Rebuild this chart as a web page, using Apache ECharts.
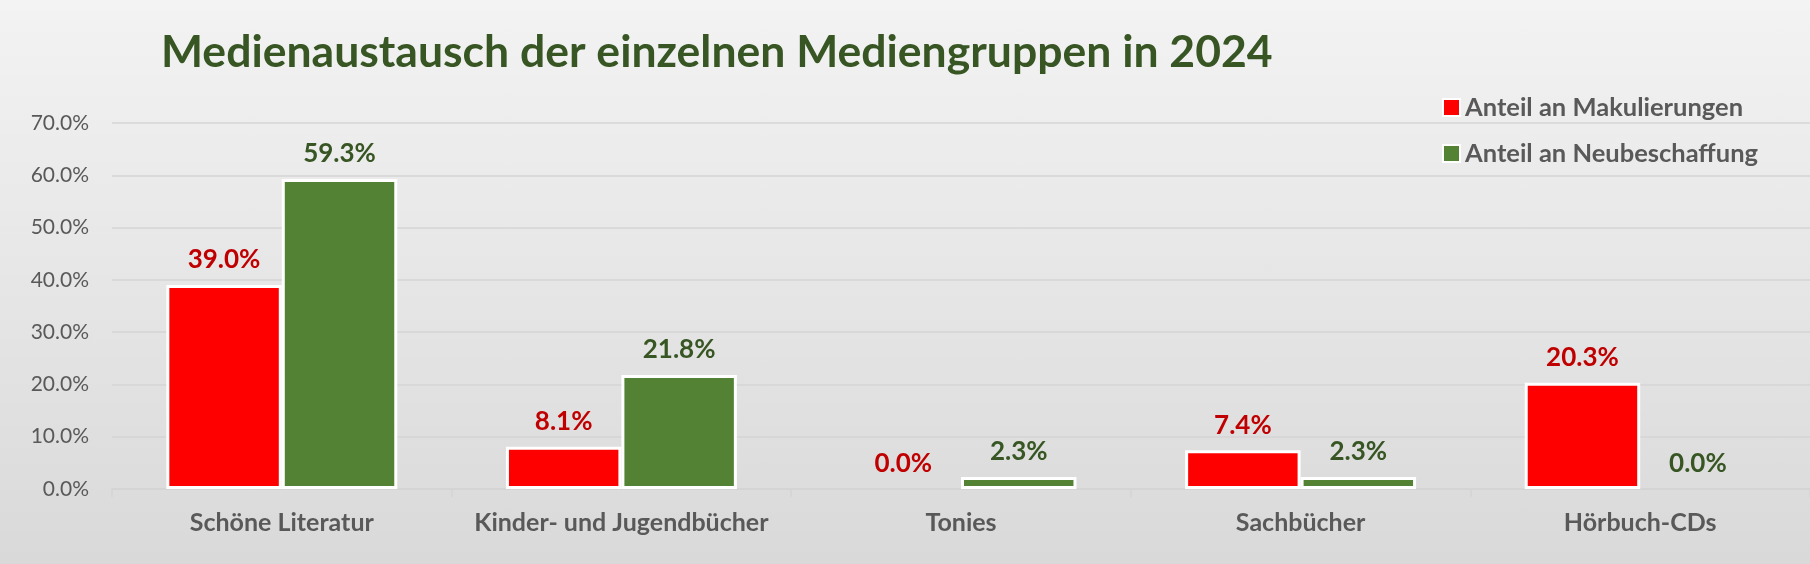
<!DOCTYPE html>
<html>
<head>
<meta charset="utf-8">
<script src="https://cdn.jsdelivr.net/npm/echarts@6/dist/echarts.min.js"></script>
<style>
html,body{margin:0;padding:0;}
#c{width:1810px;height:564px;background:linear-gradient(to bottom,#f3f3f3 0%,#d9d9d9 100%);}
</style>
</head>
<body>
<div id="c"></div>
<script>
const categories = ['Schöne Literatur', 'Kinder- und Jugendbücher', 'Tonies', 'Sachbücher', 'Hörbuch-CDs'];
const seriesNames = ['Anteil an Makulierungen', 'Anteil an Neubeschaffung'];
const makulierungen = [39.0, 8.1, 0.0, 7.4, 20.3];
const neubeschaffung = [59.3, 21.8, 2.3, 2.3, 0.0];
const titleText = 'Medienaustausch der einzelnen Mediengruppen in 2024';

const FONT = 'Lato';
function items(arr) {
  return arr.map(v => ({ value: v, itemStyle: { borderWidth: v === 0 ? 0 : 3 } }));
}
function bar(name, data, color, labelColor) {
  return {
    name: name,
    type: 'bar',
    data: items(data),
    barWidth: '34%',
    barGap: '0%',
    itemStyle: { color: color, borderColor: '#ffffff', borderWidth: 3 },
    label: {
      show: true,
      position: 'top',
      distance: 12,
      color: labelColor,
      fontFamily: FONT,
      fontWeight: 'bold',
      fontSize: 26,
      formatter: p => p.value.toFixed(1) + '%'
    }
  };
}
const chart = echarts.init(document.getElementById('c'), null, { renderer: 'canvas' });
chart.setOption({
  backgroundColor: 'transparent',
  animation: false,
  title: {
    text: titleText,
    left: 156,
    top: 22,
    textStyle: { color: '#375623', fontFamily: FONT, fontWeight: 'bold', fontSize: 44.5, lineHeight: 52 }
  },
  legend: {
    orient: 'vertical',
    left: 1437,
    top: 89,
    itemWidth: 17,
    itemHeight: 17,
    itemGap: 19,
    icon: 'rect',
    itemStyle: { borderColor: '#ffffff', borderWidth: 2 },
    textStyle: { color: '#595959', fontFamily: FONT, fontWeight: 'bold', fontSize: 25.5, lineHeight: 27, padding: [0, 0, 0, 0] },
    data: seriesNames
  },
  grid: { left: 112, right: -4, top: 123, bottom: 75, containLabel: false },
  xAxis: {
    type: 'category',
    data: categories,
    axisLine: { lineStyle: { color: '#d4d4d4', width: 1.5 } },
    axisTick: { show: true, length: 8, lineStyle: { color: '#d4d4d4', width: 1.5 } },
    axisLabel: { color: '#595959', fontFamily: FONT, fontWeight: 'bold', fontSize: 25, margin: 21, interval: 0 }
  },
  yAxis: {
    type: 'value',
    min: 0,
    max: 70,
    interval: 10,
    axisLine: { show: false },
    axisTick: { show: false },
    splitLine: { lineStyle: { color: '#d4d4d4', width: 1.5 } },
    axisLabel: { color: '#595959', fontFamily: FONT, fontSize: 21, margin: 23, formatter: v => v.toFixed(1) + '%' }
  },
  series: [
    bar(seriesNames[0], makulierungen, '#ff0000', '#c00000'),
    bar(seriesNames[1], neubeschaffung, '#548235', '#375623')
  ]
});
</script>
</body>
</html>
